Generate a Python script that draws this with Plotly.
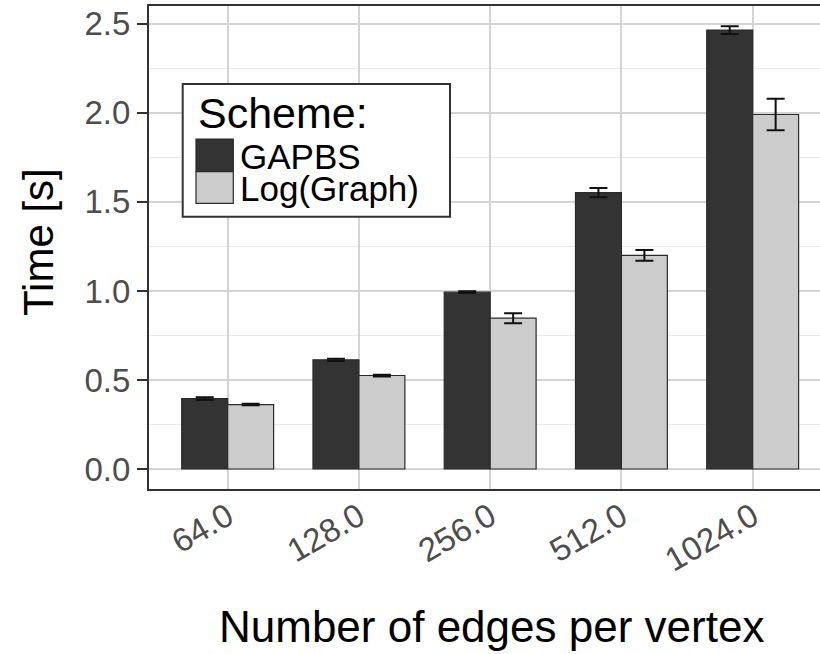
import plotly.graph_objects as go

categories = ["64.0", "128.0", "256.0", "512.0", "1024.0"]
gapbs = [0.395, 0.613, 0.993, 1.552, 2.465]
gapbs_err = [0.008, 0.006, 0.005, 0.026, 0.022]
loggraph = [0.362, 0.525, 0.847, 1.200, 1.991]
loggraph_err = [0.004, 0.005, 0.028, 0.030, 0.089]
y_ticks = [0.0, 0.5, 1.0, 1.5, 2.0, 2.5]
y_ticktext = ["0.0", "0.5", "1.0", "1.5", "2.0", "2.5"]

FONT = "Liberation Sans, Arial, Helvetica, sans-serif"
DARK = "#333333"
LIGHT = "#cccccc"
EDGE = "#2b2b2b"

fig = go.Figure()
fig.add_trace(go.Bar(
    name="GAPBS", x=categories, y=gapbs,
    marker=dict(color=DARK, line=dict(color=EDGE, width=1.2)),
    error_y=dict(type="data", array=gapbs_err, color="#111111", thickness=2, width=9),
    showlegend=False,
))
fig.add_trace(go.Bar(
    name="Log(Graph)", x=categories, y=loggraph,
    marker=dict(color=LIGHT, line=dict(color=EDGE, width=1.2)),
    error_y=dict(type="data", array=loggraph_err, color="#111111", thickness=2, width=9),
    showlegend=False,
))

fig.update_layout(
    width=820, height=654,
    margin=dict(l=148, r=0, t=5, b=164),
    paper_bgcolor="white", plot_bgcolor="white",
    barmode="group", bargap=0.3, bargroupgap=0.0,
    font=dict(family=FONT),
    xaxis=dict(
        type="category", range=[-0.607, 4.513],
        showgrid=True, gridcolor="#d4d4d4", gridwidth=1.5,
        tickangle=-30, tickfont=dict(size=33, color="#4d4d4d", family=FONT),
        ticks="", showline=False, zeroline=False,
    ),
    yaxis=dict(
        range=[-0.118, 2.606],
        tickvals=y_ticks, ticktext=y_ticktext,
        showgrid=True, gridcolor="#d4d4d4", gridwidth=1.5,
        minor=dict(tick0=0.25, dtick=0.5, showgrid=True, gridcolor="#ebebeb", gridwidth=1.2),
        ticks="outside", ticklen=10, tickwidth=1.5, tickcolor="#333333",
        tickfont=dict(size=33, color="#4d4d4d", family=FONT),
        showline=False, zeroline=False,
    ),
    shapes=[
        dict(type="rect", xref="paper", yref="paper", x0=0, x1=1.05, y0=0, y1=1,
             line=dict(color="#333333", width=2), layer="above"),
        # legend box
        dict(type="rect", xref="paper", yref="paper",
             x0=(182.7 - 148) / 672, x1=(450 - 148) / 672,
             y0=(490 - 216.7) / 485, y1=(490 - 84) / 485,
             fillcolor="white", line=dict(color="#333333", width=2), layer="above"),
        dict(type="rect", xref="paper", yref="paper",
             x0=(196 - 148) / 672, x1=(233.3 - 148) / 672,
             y0=(490 - 171.7) / 485, y1=(490 - 139) / 485,
             fillcolor=DARK, line=dict(color=EDGE, width=1.2), layer="above"),
        dict(type="rect", xref="paper", yref="paper",
             x0=(196 - 148) / 672, x1=(233.3 - 148) / 672,
             y0=(490 - 203.3) / 485, y1=(490 - 171.7) / 485,
             fillcolor=LIGHT, line=dict(color=EDGE, width=1.2), layer="above"),
    ],
    annotations=[
        dict(text="Scheme:", xref="paper", yref="paper",
             x=(196 - 148) / 672, y=(490 - 113) / 485, xanchor="left", yanchor="middle",
             showarrow=False, font=dict(size=43, color="black", family=FONT)),
        dict(text="GAPBS", xref="paper", yref="paper",
             x=(238 - 148) / 672, y=(490 - 156) / 485, xanchor="left", yanchor="middle",
             showarrow=False, font=dict(size=35, color="black", family=FONT)),
        dict(text="Log(Graph)", xref="paper", yref="paper",
             x=(238 - 148) / 672, y=(490 - 188) / 485, xanchor="left", yanchor="middle",
             showarrow=False, font=dict(size=35, color="black", family=FONT)),
        dict(text="Time [s]", xref="paper", yref="paper",
             x=-(148 - 38) / 672, y=(490 - 242) / 485, xanchor="center", yanchor="middle",
             textangle=-90, showarrow=False, font=dict(size=42, color="black", family=FONT)),
        dict(text="Number of edges per vertex", xref="paper", yref="paper",
             x=(491 - 148) / 672, y=-(626 - 490) / 485, xanchor="center", yanchor="middle",
             showarrow=False, font=dict(size=44, color="black", family=FONT)),
    ],
)

fig.write_html(
    "out.html",
    config={"displayModeBar": False},
    post_script="document.body.style.margin='0';document.body.style.overflow='hidden';",
)
